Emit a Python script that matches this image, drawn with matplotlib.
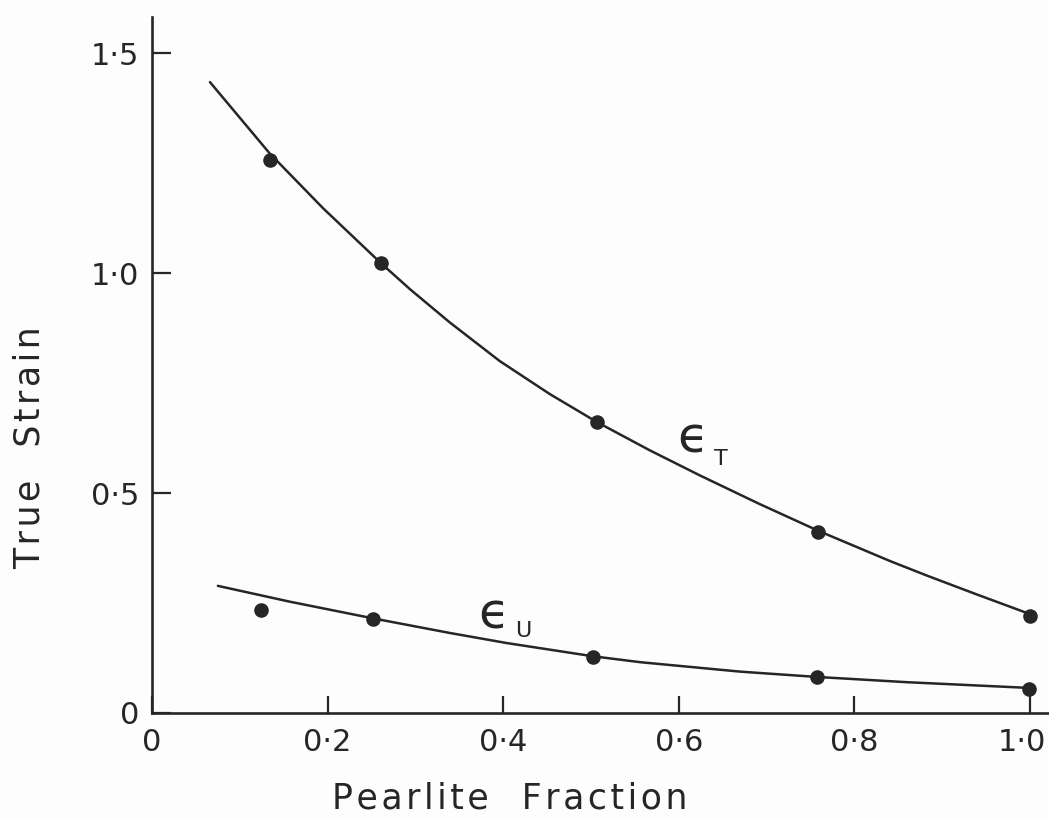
import matplotlib
matplotlib.use("Agg")
import matplotlib.pyplot as plt
from matplotlib.transforms import ScaledTranslation

# ---- data ----
# measured points
et_x = [0.134, 0.261, 0.507, 0.759, 1.000]
et_y = [1.257, 1.023, 0.661, 0.411, 0.220]
eu_x = [0.124, 0.252, 0.502, 0.757, 0.999]
eu_y = [0.234, 0.214, 0.127, 0.082, 0.055]

# hand-drawn fitted curves
et_curve_x = [0.066, 0.134, 0.195, 0.261, 0.294, 0.339, 0.396, 0.453, 0.507,
              0.567, 0.624, 0.692, 0.759, 0.841, 0.883, 0.940, 1.001]
et_curve_y = [1.434, 1.272, 1.147, 1.022, 0.963, 0.888, 0.800, 0.725, 0.661,
              0.597, 0.540, 0.475, 0.414, 0.345, 0.312, 0.269, 0.224]
eu_curve_x = [0.075, 0.157, 0.252, 0.339, 0.404, 0.502, 0.556, 0.670, 0.757,
              0.860, 0.999]
eu_curve_y = [0.289, 0.253, 0.215, 0.182, 0.159, 0.129, 0.1155, 0.094, 0.082,
              0.070, 0.057]

xticks = [0, 0.2, 0.4, 0.6, 0.8, 1.0]
xtick_labels = ["0", "0·2", "0·4", "0·6", "0·8", "1·0"]
yticks = [0, 0.5, 1.0, 1.5]
ytick_labels = ["0", "0·5", "1·0", "1·5"]

ink = "#262626"
bg = "#fdfdfd"
plt.rcParams["font.family"] = ["DejaVu Sans"]

fig = plt.figure(figsize=(10.49, 8.18), dpi=100, facecolor=bg)
ax = fig.add_axes([152 / 1049, 105 / 818, 897 / 1049, 696 / 818])
ax.set_facecolor(bg)

ax.plot(et_curve_x, et_curve_y, color=ink, lw=1.8, solid_capstyle="round",
        solid_joinstyle="round")
ax.plot(eu_curve_x, eu_curve_y, color=ink, lw=1.8, solid_capstyle="round",
        solid_joinstyle="round")
ax.plot(et_x, et_y, "o", color=ink, ms=10.5, mew=0)
ax.plot(eu_x, eu_y, "o", color=ink, ms=10.5, mew=0)

# curve labels: lunate epsilon with subscript letter
ax.text(0.598, 0.593, "ϵ", fontsize=36, color=ink, ha="left", va="baseline")
ax.text(0.640, 0.564, "T", fontsize=16, color=ink, ha="left", va="baseline")
ax.text(0.371, 0.193, "ϵ", fontsize=36, color=ink, ha="left", va="baseline")
ax.text(0.413, 0.173, "U", fontsize=16, color=ink, ha="left", va="baseline")

ax.set_xlim(0, 1.0216)
ax.set_ylim(0, 1.582)
for s in ["top", "right"]:
    ax.spines[s].set_visible(False)
for s in ["left", "bottom"]:
    ax.spines[s].set_linewidth(1.9)
    ax.spines[s].set_color(ink)

ax.set_xticks(xticks)
ax.set_xticklabels(xtick_labels)
ax.set_yticks(yticks)
ax.set_yticklabels(ytick_labels)
ax.tick_params(axis="x", direction="in", length=12, width=1.6, colors=ink,
               labelsize=22, pad=11)
ax.tick_params(axis="y", direction="in", length=14, width=1.6, colors=ink,
               labelsize=22, pad=9)

# keep the last x tick label inside the figure
last = ax.get_xticklabels()[-1]
last.set_transform(last.get_transform()
                   + ScaledTranslation(-8 / 100, 0, fig.dpi_scale_trans))

hs = "\u200a"
xlab = hs.join("Pearlite") + "   " + hs.join("Fraction")
ylab = hs.join("True") + "   " + hs.join("Strain")
ax.set_xlabel(xlab, fontsize=25, color=ink)
ax.xaxis.set_label_coords(0.399, -0.098)
ax.set_ylabel(ylab, fontsize=25, color=ink)
ax.yaxis.set_label_coords(-0.118, 0.382)

fig.savefig("out.png", dpi=100, facecolor=fig.get_facecolor())
